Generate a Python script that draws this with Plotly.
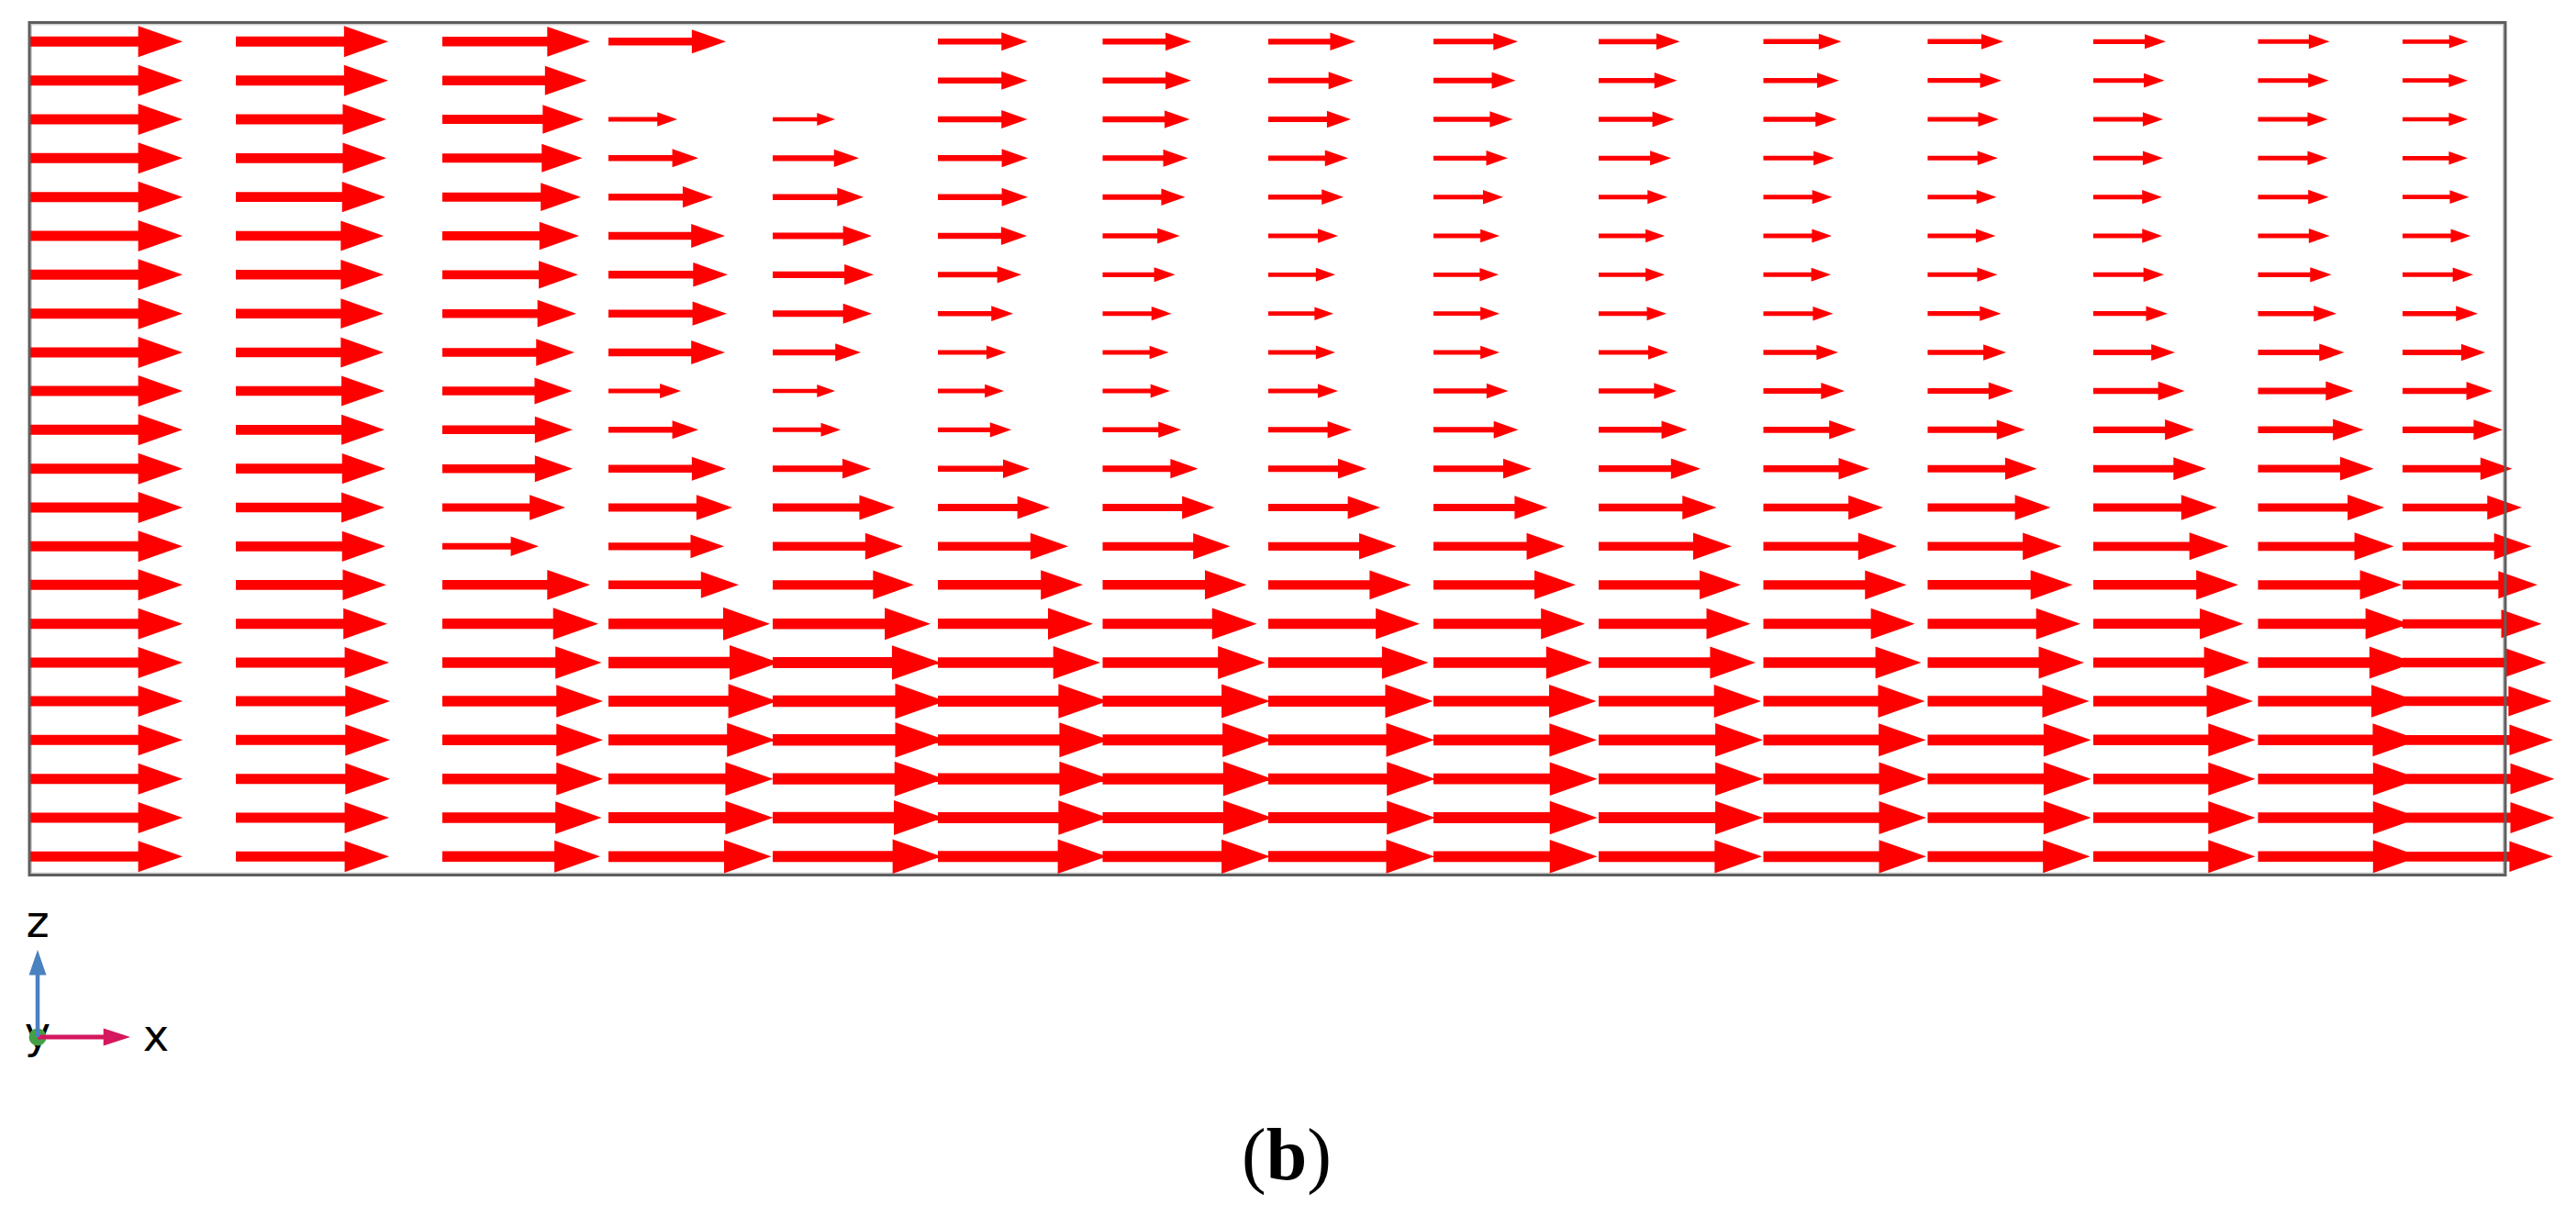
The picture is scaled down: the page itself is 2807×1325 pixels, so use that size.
import plotly.graph_objects as go

# positions on the x-z section, in picture units
x_tails = [32, 257, 482, 663, 842, 1022, 1201.5, 1382, 1562, 1742, 1921.5, 2100.5, 2281, 2460.5, 2618]
z_rows = [45.3, 87.7, 130, 172.3, 214.7, 257, 299.3, 341.7, 384, 426, 468.3,
          510.7, 553, 595.3, 637.3, 679.7, 722, 764, 806.3, 848.7, 891, 933.3]

# arrow length read per column, top row first (None = no arrow drawn)
len_col_0 = [167] * 22
len_col_1 = [166, 166, 164, 164, 163, 161, 161, 161, 161, 162, 162,
             163, 162, 163, 164, 165, 167, 168, 168, 168, 167, 167]
len_col_2 = [161, 157.5, 154, 152.5, 151, 149, 148, 146, 144, 141.5, 142,
             142, 134, 105, 161, 170, 173.5, 175, 175, 175, 173.5, 172]
len_col_3 = [128, None, 75, 98, 114, 127, 130, 129, 127, 79, 98,
             128, 135, 126, 142, 176, 186, 184, 182, 179.5, 179.5, 177.5]
len_col_4 = [None, None, 68, 94, 99, 108, 110, 108, 96, 68, 74,
             107, 133, 142, 154, 172, 183, 188, 188, 187, 186, 184]
len_col_5 = [97.5, 97.5, 97.5, 98, 98, 97, 91, 82, 74.5, 72, 80,
             100, 122, 142, 158, 169, 177, 185, 186.5, 186.5, 185, 184]
len_col_6 = [96.5, 96.5, 95, 93, 90, 84, 79, 75, 72, 73.5, 85.5,
             104, 122, 139, 157, 168, 177, 182.5, 184, 185, 185, 182.5]
len_col_7 = [95, 92.5, 90, 87, 82, 76, 73, 71, 73, 76, 91,
             107, 122, 139.5, 155.5, 165, 174.5, 179.5, 181, 182, 182, 181]
len_col_8 = [92, 89.5, 86.5, 81, 76, 72, 71, 72, 72, 81.5, 92.5,
             107, 124.5, 143, 155, 165, 173, 177.5, 178, 178.5, 178.5, 178.5]
len_col_9 = [88.5, 85.5, 82.5, 79, 75, 72, 72, 74, 76, 85, 96.5,
             111, 128.5, 145, 155, 165.5, 171, 177, 179, 179, 179, 178]
len_col_10 = [85, 82.5, 80, 77, 75, 74.5, 73.5, 76, 81.5, 88.5, 101,
              115.5, 130.5, 145.5, 156, 165, 172, 176, 177, 177.5, 177.5, 177.5]
len_col_11 = [82.5, 80.5, 77.5, 76.5, 75, 74, 76, 80, 85.5, 93.5, 106,
              119, 134, 146, 158, 166.5, 170.5, 176, 178, 178, 178, 177]
len_col_12 = [79, 77.5, 76, 76, 75, 75, 77, 81, 89, 99.5, 110,
              123, 135, 147.5, 158, 163.5, 170, 174, 176.5, 176.5, 176.5, 176.5]
len_col_13 = [78, 77, 76, 76, 77, 78, 80, 85.5, 94, 104, 115,
              126, 137.5, 148, 156.5, 165, 171, 174, 176, 176.5, 176.5, 176.5]
len_col_14 = [71.5, 71, 71, 71, 72.5, 74, 77, 82, 90, 98, 109,
              119.5, 130, 140.5, 147, 151.5, 156.5, 162.5, 164, 165.5, 165.5, 164]

lengths = [len_col_0, len_col_1, len_col_2, len_col_3, len_col_4, len_col_5, len_col_6, len_col_7,
           len_col_8, len_col_9, len_col_10, len_col_11, len_col_12, len_col_13, len_col_14]

# triad and frame
frame_x = [32, 2730]
frame_z = [24.5, 953.5]
triad_x = [41, 142]
triad_z = [1130, 1035]
axis_labels = ['z', 'y', 'x']
axis_label_x = [41, 41, 170]
axis_label_z = [1009, 1130, 1133]


def arrow_h(x0, y0, length, head=0.29, half_head=0.102, half_shaft=0.033):
    hx = x0 + length * (1 - head)
    hw = length * half_head
    sw = length * half_shaft
    xs = [x0, hx, hx, x0 + length, hx, hx, x0, x0, None]
    ys = [y0 - sw, y0 - sw, y0 - hw, y0, y0 + hw, y0 + sw, y0 + sw, y0 - sw, None]
    return xs, ys


px, py = [], []
for x0, col in zip(x_tails, lengths):
    for y0, ln in zip(z_rows, col):
        if ln is None:
            continue
        xs, ys = arrow_h(x0, y0, ln)
        px += xs
        py += ys

fig = go.Figure()
fig.add_trace(go.Scatter(x=px, y=py, mode='lines', fill='toself', fillcolor='#ff0000',
                         line=dict(width=0, color='#ff0000'), hoverinfo='skip', showlegend=False))

fig.add_trace(go.Scatter(x=axis_label_x, y=axis_label_z, mode='text', text=axis_labels,
                         textposition='middle center',
                         textfont=dict(family='DejaVu Sans', size=48, color='#000000'),
                         hoverinfo='skip', showlegend=False))

# x axis of the triad
xs, ys = arrow_h(triad_x[0], triad_z[0], triad_x[1] - triad_x[0], head=0.29, half_head=0.095, half_shaft=0.024)
fig.add_trace(go.Scatter(x=[triad_x[0]], y=[triad_z[0]], mode='markers',
                         marker=dict(size=19, color='#45a045'), hoverinfo='skip', showlegend=False))
fig.add_trace(go.Scatter(x=xs, y=ys, mode='lines', fill='toself', fillcolor='#d5175e',
                         line=dict(width=0, color='#d5175e'), hoverinfo='skip', showlegend=False))

# z axis of the triad, same arrow turned upright
zl = triad_z[0] - triad_z[1]
xs, ys = arrow_h(0, 0, zl, head=0.29, half_head=0.1, half_shaft=0.024)
xs2 = [None if a is None else triad_x[0] + b for a, b in zip(xs, ys)]
ys2 = [None if a is None else triad_z[0] - a for a in xs]
fig.add_trace(go.Scatter(x=xs2, y=ys2, mode='lines', fill='toself', fillcolor='#4a82bf',
                         line=dict(width=0, color='#4a82bf'), hoverinfo='skip', showlegend=False))

# light inner edge below the arrows, dark frame over them
fig.add_shape(type='rect', x0=frame_x[0] + 2, x1=frame_x[1] - 2, y0=frame_z[0] + 2, y1=frame_z[1] - 2,
              line=dict(color='#cfcfcf', width=2), layer='below')
fig.add_shape(type='rect', x0=frame_x[0], x1=frame_x[1], y0=frame_z[0], y1=frame_z[1],
              line=dict(color='#5e5e5e', width=3), layer='above')

fig.add_annotation(x=1402, y=1258, text='(<b>b</b>)', showarrow=False,
                   font=dict(family='Liberation Serif', size=80, color='#000000'))

fig.update_layout(width=2807, height=1325, margin=dict(l=0, r=0, t=0, b=0),
                  paper_bgcolor='white', plot_bgcolor='white',
                  xaxis=dict(range=[0, 2807], visible=False, fixedrange=True),
                  yaxis=dict(range=[1325, 0], visible=False, fixedrange=True))

fig.write_html("out.html", config=dict(displayModeBar=False),
               post_script="document.body.style.margin='0'")
